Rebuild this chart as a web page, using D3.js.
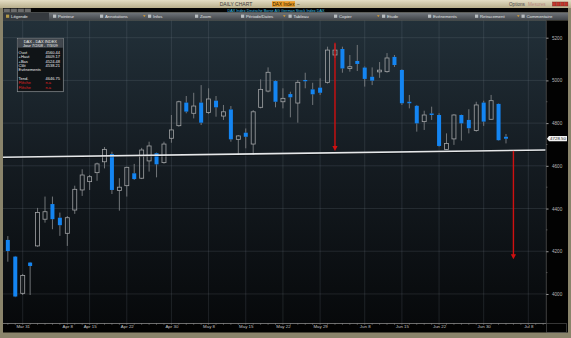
<!DOCTYPE html>
<html>
<head>
<meta charset="utf-8">
<script src="https://cdn.jsdelivr.net/npm/d3@7"></script>
<style>
  body { margin: 0; background: #8a846b; }
  svg { display: block; font-family: "Liberation Sans", Arial, sans-serif; }
</style>
</head>
<body>
<div id="chart"></div>
<script>
// trading days shown on the time axis (last five are empty future slots)
const days = ["Mar 27","Mar 30","Mar 31","Apr 1","Apr 2","Apr 3","Apr 6","Apr 7","Apr 8","Apr 9",
  "Apr 14","Apr 15","Apr 16","Apr 17","Apr 20","Apr 21","Apr 22","Apr 23","Apr 24","Apr 27",
  "Apr 28","Apr 29","Apr 30","May 4","May 5","May 6","May 7","May 8","May 11","May 12",
  "May 13","May 14","May 15","May 18","May 19","May 20","May 21","May 22","May 25","May 26",
  "May 27","May 28","May 29","Jun 1","Jun 2","Jun 3","Jun 4","Jun 5","Jun 8","Jun 9",
  "Jun 10","Jun 11","Jun 12","Jun 15","Jun 16","Jun 17","Jun 18","Jun 19","Jun 22","Jun 23",
  "Jun 24","Jun 25","Jun 26","Jun 29","Jun 30","Jul 1","Jul 2","Jul 3","Jul 6","Jul 7",
  "Jul 8","Jul 9","Jul 10"];

const open  = [4253,4175,4003,4147,4225,4350,4421,4357,4284,4393,4487,4526,4568,4619,4655,4484,4507,4565,4542,4623,
  4659,4615,4729,4788,4896,4846,4896,4850,4905,4833,4864,4724,4755,4702,4874,4950,4997,4900,4936,4894,
  5002,4958,4966,4991,5119,5147,5056,5091,5060,5017,5040,5041,5110,5049,4900,4881,4807,4845,4838,4677,
  4726,4838,4815,4765,4896,4818,4890,4736];
const high  = [4271,4178,4094,4150,4403,4456,4456,4381,4365,4507,4584,4557,4615,4688,4666,4542,4596,4609,4684,4713,
  4662,4713,4838,4905,4927,4942,4978,4963,4927,4885,4880,4744,4775,4861,5005,5061,5000,4963,4947,5002,
  5036,4989,5010,5158,5170,5158,5119,5166,5065,5061,5086,5128,5119,5052,4932,4885,4858,4877,4846,4752,
  4842,4840,4865,4900,4905,4932,4892,4749];
const low   = [4151,3985,3995,3995,4221,4334,4303,4272,4225,4375,4459,4487,4530,4588,4468,4390,4456,4534,4538,4573,
  4546,4610,4708,4783,4846,4822,4791,4843,4830,4815,4713,4651,4682,4651,4869,4944,4874,4869,4827,4802,
  4963,4885,4932,4985,5105,5036,5041,5044,4971,4978,5012,5036,5063,4885,4869,4760,4768,4815,4690,4674,
  4698,4718,4752,4760,4787,4815,4718,4705];
const close = [4201,3988,4086,4131,4381,4385,4350,4322,4357,4490,4557,4549,4609,4677,4487,4500,4593,4538,4674,4693,
  4607,4702,4768,4900,4854,4880,4802,4913,4874,4853,4724,4740,4736,4853,4958,5038,4900,4916,4921,4991,
  4996,4935,4942,5142,5142,5056,5064,5077,5007,4999,5048,5105,5072,4893,4893,4799,4838,4838,4693,4705,
  4838,4799,4776,4885,4807,4905,4720,4727];

const yMajor = [4000,4200,4400,4600,4800,5000,5200];
const yMinor = [4100,4300,4500,4700,4900,5100];
const xLabels = ["Mar 31","Apr 8","Apr 15","Apr 22","Apr 30","May 8","May 15","May 22","May 29","Jun 8","Jun 15","Jun 22","Jun 30","Jul 8"];

// support line drawn by the analyst, and the measured-move arrows
const trend = [{day: "May 14", value: 4655}, {day: "Jun 23", value: 4668}];
const arrows = [{day: "Jun 2", from: 5176, to: 4669}, {day: "Jul 6", from: 4670, to: 4163}];
const lastPrice = "4728.50";

const legendRows = [["Ouvt","4560.44"],["+Haut","4609.17"],["+Bas","4524.48"],["Clôt","4538.21"],["Evènements",""],["",""],["Tend.","4646.75"]];
const toolbarItems = ["Légende","Pointeur","Annotations","Infos","Zoom","Période/Dates","Tableau","Copier","Etude","Evénements","Retracement","Commentaire"];

const W = 571, H = 338;
const plot = {left: 3, right: 546, top: 20.5, bottom: 323};

const svg = d3.select("#chart").append("svg")
  .attr("width", W).attr("height", H);

const defs = svg.append("defs");
const gPlot = defs.append("linearGradient").attr("id", "plotbg").attr("x1", 0).attr("x2", 0).attr("y1", 0).attr("y2", 1);
gPlot.append("stop").attr("offset", "0%").attr("stop-color", "#223039");
gPlot.append("stop").attr("offset", "45%").attr("stop-color", "#151c22");
gPlot.append("stop").attr("offset", "100%").attr("stop-color", "#07090b");
const gTitle = defs.append("linearGradient").attr("id", "titlebg").attr("x1", 0).attr("x2", 0).attr("y1", 0).attr("y2", 1);
gTitle.append("stop").attr("offset", "0%").attr("stop-color", "#e4ddc4");
gTitle.append("stop").attr("offset", "100%").attr("stop-color", "#b9af8c");
const gTool = defs.append("linearGradient").attr("id", "toolbg").attr("x1", 0).attr("x2", 0).attr("y1", 0).attr("y2", 1);
gTool.append("stop").attr("offset", "0%").attr("stop-color", "#70757b");
gTool.append("stop").attr("offset", "100%").attr("stop-color", "#3f4348");

// frame
svg.append("rect").attr("width", W).attr("height", H).attr("fill", "#8a846b");
svg.append("rect").attr("x", 0).attr("y", 0).attr("width", W).attr("height", 8).attr("fill", "url(#titlebg)");
svg.append("text").attr("x", 236).attr("y", 5.8).attr("text-anchor", "middle")
  .attr("font-size", 5).attr("fill", "#3a3a3a").text("DAILY CHART");
svg.append("rect").attr("x", 272).attr("y", 1.2).attr("width", 23).attr("height", 5.6).attr("fill", "#ec9a26");
svg.append("text").attr("x", 283.5).attr("y", 5.7).attr("text-anchor", "middle")
  .attr("font-size", 4.6).attr("fill", "#2a1a00").text("DAX Index");
svg.append("text").attr("x", 297).attr("y", 5.7).attr("font-size", 4.6).attr("fill", "#333").text("–");
svg.append("text").attr("x", 509).attr("y", 5.7).attr("font-size", 4.6).attr("fill", "#4a4a4a").text("Options");
svg.append("text").attr("x", 528).attr("y", 5.7).attr("font-size", 4.6).attr("fill", "#b88a80").text("Mesures");
[552.5, 556.5, 560.5, 564.5].forEach(x => {
  svg.append("rect").attr("x", x).attr("y", 2).attr("width", 3.4).attr("height", 4)
    .attr("fill", "#c2362c").attr("stroke", "#7a1a14").attr("stroke-width", 0.4);
});

svg.append("rect").attr("x", 3).attr("y", 8).attr("width", 565).attr("height", 4.5).attr("fill", "#050505");
[3.5, 10.5, 17.5, 24.5].forEach(x => {
  svg.append("rect").attr("x", x).attr("y", 8.6).attr("width", 6.4).attr("height", 3.4).attr("fill", "#6a6a6a");
});
svg.append("text").attr("x", 276).attr("y", 11.6).attr("text-anchor", "middle")
  .attr("font-size", 3.8).attr("fill", "#3fc1e6")
  .text("DAX Index   Deutsche Borse AG German Stock Index DAX");

// toolbar
svg.append("rect").attr("x", 3).attr("y", 12.5).attr("width", 565).attr("height", 8).attr("fill", "url(#toolbg)");
svg.append("rect").attr("x", 3).attr("y", 12.5).attr("width", 46).attr("height", 8).attr("fill", "#35393e");
const toolX = [6, 53, 100, 148, 195, 241, 288.5, 334, 382, 428, 475, 521.5];
const dropX = [143, 283, 377, 517];
toolbarItems.forEach((t, i) => {
  svg.append("rect").attr("x", toolX[i]).attr("y", 14.6).attr("width", 3.2).attr("height", 3.2)
    .attr("fill", i === 0 ? "#c9a94a" : "#c8ccd0").attr("opacity", 0.85);
  svg.append("text").attr("x", toolX[i] + 5).attr("y", 18).attr("font-size", 4.3)
    .attr("fill", "#e4e6e8").text(t);
});
dropX.forEach(x => {
  svg.append("path").attr("d", `M${x},15.3 L${x + 2.6},15.3 L${x + 1.3},17 Z`).attr("fill", "#e0a030");
});

// plot background and side panels
svg.append("rect").attr("x", plot.left).attr("y", plot.top)
  .attr("width", plot.right - plot.left).attr("height", plot.bottom - plot.top).attr("fill", "url(#plotbg)");
svg.append("rect").attr("x", plot.right).attr("y", plot.top).attr("width", 22).attr("height", 312).attr("fill", "#020202");
svg.append("rect").attr("x", plot.left).attr("y", plot.bottom).attr("width", plot.right - plot.left).attr("height", 9.5).attr("fill", "#020202");
svg.append("rect").attr("x", plot.right + 0.5).attr("y", plot.bottom + 0.5).attr("width", 20).attr("height", 9)
  .attr("fill", "none").attr("stroke", "#5a5a5a").attr("stroke-width", 0.6);

// scales
const x = d3.scaleLinear().domain([-0.65, 72.3]).range([plot.left, 545.4]);
const y = d3.scaleLinear().domain([3864, 5280.5]).range([plot.bottom, plot.top]);

// grid
const grid = svg.append("g").attr("stroke", "#8a96a2").attr("stroke-opacity", 0.22).attr("stroke-width", 0.8);
yMajor.forEach(v => grid.append("line").attr("x1", plot.left).attr("x2", plot.right)
  .attr("y1", y(v)).attr("y2", y(v)));
xLabels.forEach(d => {
  const i = days.indexOf(d);
  grid.append("line").attr("x1", x(i)).attr("x2", x(i)).attr("y1", plot.top).attr("y2", plot.bottom);
});

// right price axis
const yAxis = svg.append("g").attr("transform", `translate(${plot.right},0)`)
  .call(d3.axisRight(y).tickValues(yMajor).tickSize(2.5).tickPadding(3.5).tickFormat(d3.format("d")));
yAxis.select(".domain").remove();
yAxis.selectAll("line").attr("stroke", "#9a9a9a");
yAxis.selectAll("text").attr("font-size", 4.6).attr("fill", "#b8b8b8").attr("font-family", "Liberation Sans, Arial");
svg.append("g").selectAll("line").data(yMinor).join("line")
  .attr("x1", plot.right).attr("x2", plot.right + 1.5).attr("y1", d => y(d)).attr("y2", d => y(d))
  .attr("stroke", "#7a7a7a").attr("stroke-width", 0.6);
svg.append("line").attr("x1", plot.right + 0.3).attr("x2", plot.right + 0.3).attr("y1", plot.top).attr("y2", plot.bottom)
  .attr("stroke", "#6a6a6a").attr("stroke-width", 0.6);

// bottom time axis
const xAxis = svg.append("g").attr("transform", `translate(0,${plot.bottom + 0.5})`)
  .call(d3.axisBottom(x).tickValues(xLabels.map(d => days.indexOf(d))).tickSize(0).tickPadding(1.6)
    .tickFormat(i => days[i]));
xAxis.select(".domain").remove();
xAxis.selectAll("text").attr("font-size", 4.4).attr("fill", "#c4c4c4").attr("font-family", "Liberation Sans, Arial");
svg.append("line").attr("x1", plot.left).attr("x2", plot.right).attr("y1", plot.bottom + 0.5).attr("y2", plot.bottom + 0.5)
  .attr("stroke", "#9c9c9c").attr("stroke-width", 0.7);
svg.append("g").selectAll("line").data(days).join("line")
  .attr("x1", (d, i) => x(i)).attr("x2", (d, i) => x(i))
  .attr("y1", plot.bottom + 0.5).attr("y2", plot.bottom + 1.8)
  .attr("stroke", "#9c9c9c").attr("stroke-width", 0.5);

// candles
const candles = open.map((o, i) => ({i, o, h: high[i], l: low[i], c: close[i]}));
const cg = svg.append("g");
const bw = 4;
candles.forEach(d => {
  const up = d.c >= d.o;
  const top = y(Math.max(d.o, d.c)), bot = y(Math.min(d.o, d.c));
  const cx = x(d.i);
  cg.append("line").attr("x1", cx).attr("x2", cx).attr("y1", y(d.h)).attr("y2", top)
    .attr("stroke", "#7c7f82").attr("stroke-width", 0.9);
  cg.append("line").attr("x1", cx).attr("x2", cx).attr("y1", bot).attr("y2", y(d.l))
    .attr("stroke", "#7c7f82").attr("stroke-width", 0.9);
  if (up) {
    cg.append("rect").attr("x", cx - bw / 2).attr("y", top).attr("width", bw).attr("height", Math.max(1, bot - top))
      .attr("fill", "none").attr("stroke", "#a2a4a6").attr("stroke-width", 0.8);
  } else {
    cg.append("rect").attr("x", cx - bw / 2).attr("y", top).attr("width", bw).attr("height", Math.max(1.2, bot - top))
      .attr("fill", "#1485f2");
  }
});

// support line, extended across the plot
const t0 = days.indexOf(trend[0].day), t1 = days.indexOf(trend[1].day);
const slope = (trend[1].value - trend[0].value) / (t1 - t0);
const [d0, d1] = x.domain();
const tv = i => trend[0].value + (i - t0) * slope;
svg.append("line").attr("x1", x(d0)).attr("x2", x(d1)).attr("y1", y(tv(d0)) + 1).attr("y2", y(tv(d1)) + 1)
  .attr("stroke", "#000").attr("stroke-opacity", 0.5).attr("stroke-width", 1.2);
svg.append("line").attr("x1", x(d0)).attr("x2", x(d1)).attr("y1", y(tv(d0))).attr("y2", y(tv(d1)))
  .attr("stroke", "#e6e8ea").attr("stroke-width", 1.6);

// red arrows
arrows.forEach(a => {
  const ax = x(days.indexOf(a.day));
  const yTip = y(a.to);
  svg.append("line").attr("x1", ax).attr("x2", ax).attr("y1", y(a.from)).attr("y2", yTip - 4)
    .attr("stroke", "#d01010").attr("stroke-width", 1.4);
  svg.append("path").attr("d", `M${ax - 2.6},${yTip - 5} L${ax + 2.6},${yTip - 5} L${ax},${yTip} Z`)
    .attr("fill", "#d01010");
});

// last price tag
const lastY = y(close[close.length - 1]);
svg.append("path").attr("d", `M${plot.right + 1},${lastY} L${plot.right + 3},${lastY - 2.6} L${plot.right + 21},${lastY - 2.6} L${plot.right + 21},${lastY + 2.6} L${plot.right + 3},${lastY + 2.6} Z`)
  .attr("fill", "#f2f2f2");
svg.append("text").attr("x", plot.right + 12).attr("y", lastY + 1.6).attr("text-anchor", "middle")
  .attr("font-size", 4.4).attr("fill", "#222").text(lastPrice);

// legend box
const lg = svg.append("g");
lg.append("rect").attr("x", 17.3).attr("y", 38.3).attr("width", 46).attr("height", 53.4)
  .attr("fill", "#101417").attr("stroke", "#8e9296").attr("stroke-width", 0.7);
lg.append("rect").attr("x", 17.7).attr("y", 38.7).attr("width", 45.2).attr("height", 9)
  .attr("fill", "#41474e");
lg.append("text").attr("x", 40.3).attr("y", 42.6).attr("text-anchor", "middle").attr("font-size", 4)
  .attr("fill", "#f0f0f0").text("DAX - DAX INDEX");
lg.append("text").attr("x", 40.3).attr("y", 46.8).attr("text-anchor", "middle").attr("font-size", 4)
  .attr("fill", "#f0f0f0").text("Jour 7/2/08 - 7/3/09");
legendRows.forEach((r, k) => {
  const ty = 53.6 + k * 4.45;
  lg.append("text").attr("x", 18.6).attr("y", ty).attr("font-size", 4).attr("fill", "#eeeeee").text(r[0]);
  lg.append("text").attr("x", 45.5).attr("y", ty).attr("font-size", 4).attr("fill", "#eeeeee").text(r[1]);
});
[0, 1].forEach(k => {
  const ty = 84.3 + k * 4.4;
  lg.append("text").attr("x", 18.6).attr("y", ty).attr("font-size", 4).attr("fill", "#e02020").text("Flèche");
  lg.append("text").attr("x", 45.5).attr("y", ty).attr("font-size", 4).attr("fill", "#e02020").text("n.a");
});
</script>
</body>
</html>
